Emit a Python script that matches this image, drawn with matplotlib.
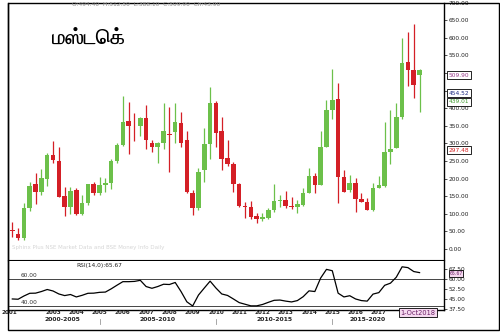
import matplotlib
matplotlib.use("Agg")
import matplotlib.pyplot as plt
import matplotlib.transforms as mtrans
from matplotlib import font_manager, ft2font
from matplotlib.patches import Rectangle

# ---------------- data ----------------
title = "மஸ்டெக்"
header = "O:494.40  H:512.50  L:388.10  C:509.90  Ch:43.90"
watermark = "Sphinx Plus NSE Market Data and BSE Money Info Daily"
quarters = [f"{y}Q{q}" for y in range(2001, 2019) for q in range(1, 5)][1:]

opens = [53, 42.6, 30.3, 115.5, 183.7, 160.9, 197.9, 267.0, 250.9, 150.5,
         120.2, 167.6, 99.4, 131.6, 183.7, 160.0, 181.8, 188.4, 250.9, 295.4,
         363.6, 350.5, 349.4, 371.2, 300.2, 288.8, 300.2, 326.7, 333.3, 357.0,
         309.6, 160.0, 115.5, 224.4, 297.3, 413.8, 336.1, 257.5, 240.5, 184.6,
         122.1, 120.2, 93.7, 85.2, 88.9, 110.8, 137.3, 139.2, 123.1, 120.2,
         125.0, 160.0, 207.4, 181.8, 290.7, 394.8, 426.1, 205.5, 166.6, 186.5,
         142.0, 134.4, 110.8, 172.3, 179.9, 274.6, 285.9, 373.8, 531.0, 508.5,
         494.4]
highs = [77.6, 58.7, 129.7, 191.2, 214.9, 227.2, 271.7, 307.7, 288.8, 177.0,
         177.0, 172.3, 153.4, 183.7, 191.2, 203.6, 200.7, 255.6, 300.2, 434.6,
         418.5, 385.4, 375.9, 409.1, 309.6, 304.9, 415.7, 404.3, 415.7, 388.2,
         336.1, 167.6, 230.0, 342.8, 461.1, 420.4, 375.9, 309.6, 248.1, 188.4,
         134.4, 136.3, 101.3, 103.2, 115.5, 184.6, 153.4, 165.7, 148.6, 139.2,
         172.3, 229.1, 214.9, 335.2, 423.3, 511.3, 472.5, 224.4, 210.2, 200.7,
         160.0, 143.9, 186.5, 207.4, 361.7, 394.8, 413.8, 599.4, 616.5, 639.2,
         512.5]
lows = [35.0, 25.5, 25.5, 108.9, 127.8, 153.4, 179.0, 245.2, 148.6, 94.7,
        98.4, 96.5, 96.5, 125.0, 153.4, 153.4, 162.8, 169.5, 243.3, 292.6,
        269.8, 307.7, 321.0, 283.1, 274.6, 243.3, 283.1, 219.7, 300.2, 290.7,
        160.0, 96.5, 112.0, 191.2, 254.7, 288.8, 224.4, 235.8, 162.8, 120.2,
        89.0, 84.2, 72.9, 80.5, 84.2, 104.1, 120.2, 115.5, 112.6, 101.3,
        123.1, 158.1, 160.0, 180.8, 288.8, 368.3, 131.6, 162.8, 162.8, 104.1,
        132.5, 110.8, 108.9, 172.3, 177.0, 241.4, 285.9, 368.0, 463.0, 429.0,
        388.1]
closes = [51, 30.3, 115.5, 178.9, 160.9, 200.7, 267.0, 252.8, 148.6, 120.2,
          165.7, 99.4, 131.6, 183.7, 160.0, 181.8, 186.5, 250.0, 295.4, 359.8,
          350.3, 348.5, 371.2, 309.6, 288.8, 300.2, 335.2, 323.8, 361.7, 300.2,
          162.8, 115.5, 219.7, 297.3, 413.8, 330.5, 254.7, 240.5, 183.7, 122.1,
          118.3, 91.8, 85.2, 89.9, 110.8, 137.3, 139.2, 123.1, 120.2, 126.9,
          160.0, 207.4, 181.8, 290.7, 394.8, 423.3, 205.5, 162.8, 187.5, 141.1,
          134.4, 110.8, 172.3, 181.8, 274.6, 283.1, 373.8, 528.4, 508.5, 466.0,
          509.9]
rsi = [45.2, 45.0, 47.4, 49.4, 49.5, 50.7, 52.2, 51.1, 48.9, 47.7,
       48.5, 46.7, 47.9, 49.4, 49.5, 50.1, 50.3, 52.7, 55.4, 58.0,
       58.0, 58.2, 59.0, 54.4, 53.1, 54.4, 56.1, 55.9, 57.4, 50.7,
       43.1, 40.0, 48.1, 53.3, 58.4, 53.3, 48.9, 47.8, 45.2, 42.5,
       41.3, 40.1, 40.1, 41.1, 42.7, 44.2, 44.4, 43.6, 43.0, 44.0,
       46.9, 51.2, 50.7, 60.7, 67.1, 66.1, 49.5, 46.7, 47.6, 45.2,
       44.0, 43.6, 48.8, 49.9, 55.3, 56.9, 61.3, 69.0, 68.4, 65.5,
       64.7]
year_labels = ["2001", "2003", "2004", "2005", "2006", "2007", "2008", "2009",
               "2010", "2011", "2012", "2013", "2014", "2015", "2016", "2017"]
period_labels = ["2000-2005", "2005-2010", "2010-2015", "2015-2020"]
period_breaks = ["2005", "2010", "2015"]
price_ticks = [0, 50, 100, 150, 200, 250, 300, 350, 400, 450, 500, 550, 600, 650, 700]
hidden_price_labels = [450, 500]   # covered by the value tags in the original
rsi_ticks = [37.5, 45, 52.5, 60, 67.5]
rsi_levels = [60, 40]
tag_values = [509.90, 454.52, 439.01, 297.48]
tag_colors = ["#9a3c8c", "#1c2a80", "#3f9a2e", "#d42020"]
rsi_label = "RSI(14,0):65.67"
rsi_tag = "65.67"
date_tag = "1-Oct2018"

GREEN = "#6cc04a"
RED = "#d41f26"

# ---------------- fonts ----------------
def find_tamil_font():
    best = None
    for f in font_manager.fontManager.ttflist:
        try:
            cmap = ft2font.FT2Font(f.fname).get_charmap()
        except Exception:
            continue
        if 0x0BAE in cmap:
            if best is None or (f.weight in ("bold", 700) and best.weight not in ("bold", 700)):
                best = f
    return best

tf = find_tamil_font()
title_fp = font_manager.FontProperties(fname=tf.fname) if tf else font_manager.FontProperties(family="DejaVu Sans")
title_fp.set_weight("bold")
title_fp.set_size(15)

plt.rcParams["font.family"] = ["DejaVu Sans"]

W, H = 500, 335
fig = plt.figure(figsize=(W / 100, H / 100), dpi=100)
fig.patch.set_facecolor("white")

def fx(px):
    return px / W

def fy(py):
    return 1 - py / H

# main price axes
ax = fig.add_axes([fx(8), fy(260), fx(444) - fx(8), fy(2.6) - fy(260)])
ax.set_xlim(-0.74, 74.2)
ax.set_ylim(-31.25, 700)

for i, (o, h, l, c) in enumerate(zip(opens, highs, lows, closes)):
    col = GREEN if c >= o else RED
    ax.vlines(i, l, h, color=col, lw=0.9, zorder=2)
    body = max(abs(c - o), 1.8)
    bottom = min(o, c) if abs(c - o) >= 1.8 else (o + c) / 2 - 0.9
    ax.bar(i, body, bottom=bottom, width=0.78, color=col, lw=0, zorder=3)

ax.yaxis.tick_right()
ax.set_yticks(price_ticks)
ax.set_yticklabels(["" if v in hidden_price_labels else f"{v:.2f}" for v in price_ticks])
ax.tick_params(axis="y", right=True, length=2.5, width=0.6, pad=1,
               labelsize=4.2, labelcolor="#222222", colors="#333333")
ax.set_xticks([])
for s in ["top", "bottom"]:
    ax.spines[s].set_visible(False)
ax.spines["left"].set_linewidth(1.0)
ax.spines["right"].set_linewidth(1.0)
ax.plot([0, 1], [0, 0], transform=ax.transAxes, color="black", lw=0.8, clip_on=False)

# value tags on the right
tag_y = [494, 443, 418, 281]
trans_tag = mtrans.blended_transform_factory(ax.transAxes, ax.transData)
for v, yy, col in zip(tag_values, tag_y, tag_colors):
    ax.text(1.0105, yy, f"{v:.2f}", transform=trans_tag, fontsize=4.2, color=col,
            ha="left", va="center", zorder=6,
            bbox=dict(boxstyle="square,pad=0.25", fc="white", ec="black", lw=0.6))

# titles / header
fig.text(fx(52), fy(39), title, fontproperties=title_fp, ha="left", va="center", color="black")
fig.text(fx(72), fy(4.5), header, fontsize=4.2, color="#888888", ha="left", va="center")
fig.text(fx(12), fy(247), watermark, fontsize=4, color="#d6d6d6", ha="left", va="center")

# RSI axes
ar = fig.add_axes([fx(8), fy(309.5), fx(444) - fx(8), fy(261) - fy(309.5)])
ar.set_xlim(-0.74, 74.2)
ar.set_ylim(37.4, 73.3)
ar.plot(range(len(rsi)), rsi, color="black", lw=0.9, zorder=3)
for lv in rsi_levels:
    ar.axhline(lv, color="#444444", lw=0.7, zorder=1)
    ar.text(1.5, lv + 0.6, f"{lv:.2f}", fontsize=4.2, color="#333333", ha="left", va="bottom")
ar.yaxis.tick_right()
ar.set_yticks(rsi_ticks)
ar.set_yticklabels([f"{v:.2f}" for v in rsi_ticks])
ar.tick_params(axis="y", right=True, length=2.5, width=0.6, pad=1,
               labelsize=4.2, labelcolor="#222222", colors="#333333")
ar.set_xticks([])
ar.spines["top"].set_visible(False)
for s in ["left", "right", "bottom"]:
    ar.spines[s].set_linewidth(1.0)
ar.text(0.21, 0.9, rsi_label, transform=ar.transAxes, fontsize=4.2, color="#222222",
        ha="center", va="center")
ar.text(1.012, 64.0, rsi_tag, transform=mtrans.blended_transform_factory(ar.transAxes, ar.transData),
        fontsize=3.3, color="#6a1f66", ha="left", va="center", zorder=6,
        bbox=dict(boxstyle="square,pad=0.15", fc="#f6d9f0", ec="black", lw=0.6))

# x-axis labels (years at Q1 candles)
tx = mtrans.blended_transform_factory(ar.transData, ar.transAxes)
for lab in year_labels:
    key = f"{lab}Q1"
    xi = quarters.index(key) if key in quarters else -0.55
    ar.text(xi, -0.065, lab, transform=tx, fontsize=4.1, fontweight="bold",
            color="#222222", ha="center", va="center")
period_x = [-0.74, quarters.index("2005Q1"), quarters.index("2010Q1"), quarters.index("2015Q1"), 74.2]
period_shift = [1.5, 0, 0, -3.5]
for k, lab in enumerate(period_labels):
    xc = (period_x[k] + period_x[k + 1]) / 2 + period_shift[k]
    ar.text(xc, -0.2, lab, transform=tx, fontsize=4.4, fontweight="bold",
            color="#222222", ha="center", va="center")
for yb in period_breaks:
    xb = quarters.index(f"{yb}Q1")
    ar.plot([xb, xb], [-0.2, -0.3], transform=tx, color="#999999", lw=0.6, clip_on=False)
ar.text(69.7, -0.065, date_tag, transform=tx, fontsize=4.8, color="#6a1f66",
        ha="center", va="center",
        bbox=dict(boxstyle="square,pad=0.2", fc="#f6d9f0", ec="black", lw=0.6))

# outer frame
fig.add_artist(Rectangle((fx(8), fy(330)), fx(499) - fx(8), fy(2.5) - fy(330),
                         transform=fig.transFigure, fill=False, ec="black", lw=1.0))

fig.savefig("out.png", dpi=100, facecolor="white")
